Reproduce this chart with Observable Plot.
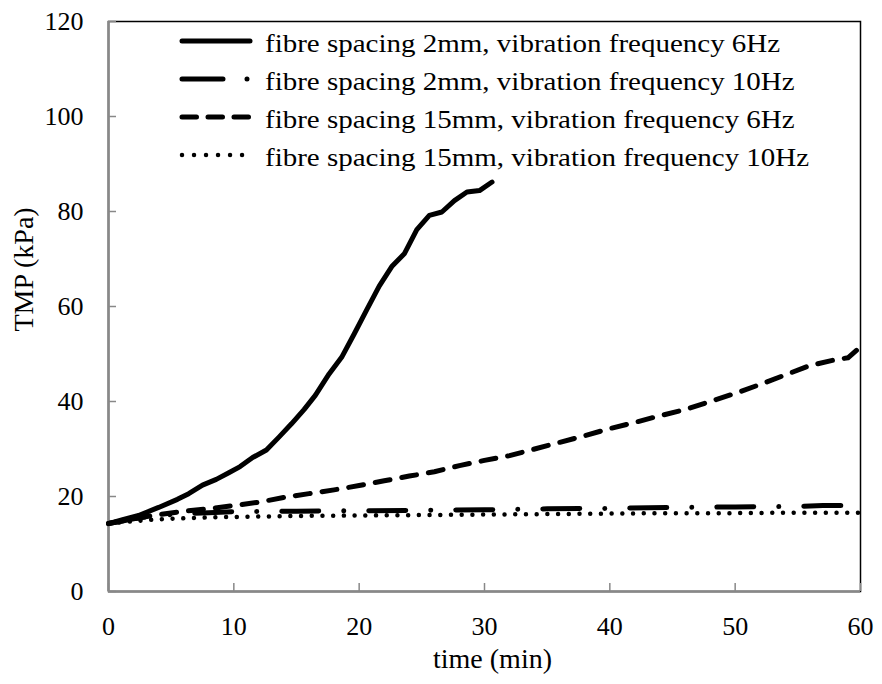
<!DOCTYPE html>
<html><head><meta charset="utf-8">
<script src="https://cdn.jsdelivr.net/npm/d3@7"></script>
<script src="https://cdn.jsdelivr.net/npm/@observablehq/plot@0.6"></script>
<style>
body{margin:0;background:#fff;}
#wrap{position:relative;width:882px;height:684px;font-family:"Liberation Serif","Times New Roman",serif;}
#legend{position:absolute;left:0;top:0;pointer-events:none;}
</style>
</head><body>
<div id="wrap"></div>
<script>
// Series: fibre spacing 2mm, vibration frequency 6Hz (solid)
const time2mm6Hz = [0,1.2,2.4,4.0,5.5,6.4,7.5,8.6,9.6,10.5,11.5,12.6,13.6,14.6,15.6,16.5,17.6,18.6,19.6,20.6,21.6,22.6,23.6,24.6,25.6,26.6,27.6,28.6,29.6,30.6];
const tmp2mm6Hz  = [14.3,15.2,16.0,17.7,19.4,20.6,22.4,23.6,25.0,26.3,28.2,29.8,32.5,35.3,38.3,41.3,45.8,49.3,54.2,59.3,64.3,68.4,71.1,76.2,79.2,79.9,82.3,84.1,84.4,86.2];
// Series: fibre spacing 2mm, vibration frequency 10Hz (long dash dot)
const time2mm10Hz = [0,1,2,3,4,5,6,8,10,15,20,25,30,35,40,45,50,55,57,59];
const tmp2mm10Hz  = [14.3,14.8,15.3,15.7,16.0,16.2,16.4,16.6,16.8,16.9,17.0,17.1,17.2,17.4,17.5,17.7,17.8,17.9,18.1,18.1];
// Series: fibre spacing 15mm, vibration frequency 6Hz (dashed)
const time15mm6Hz = [0,2,4,6,8,10,12,14,16,18,20,22,24,26,28,30,32,34,36,38,40,42,44,46,48,50,52,54,56,58,59,60];
const tmp15mm6Hz  = [14.3,15.3,16.2,16.9,17.4,18.1,18.8,19.8,20.6,21.4,22.3,23.3,24.3,25.2,26.5,27.6,28.6,30.0,31.4,32.8,34.3,35.6,37.0,38.3,40.0,41.7,43.6,45.6,47.6,48.8,49.2,51.5];
// Series: fibre spacing 15mm, vibration frequency 10Hz (dotted)
const time15mm10Hz = [0,2,4,6,8,10,15,20,25,30,35,40,45,50,55,60];
const tmp15mm10Hz  = [14.3,14.8,15.2,15.4,15.6,15.7,15.9,16.0,16.1,16.2,16.3,16.4,16.5,16.5,16.6,16.6];

const seriesLabels = [
  "fibre spacing 2mm, vibration frequency 6Hz",
  "fibre spacing 2mm, vibration frequency 10Hz",
  "fibre spacing 15mm, vibration frequency 6Hz",
  "fibre spacing 15mm, vibration frequency 10Hz"
];
const xTicks = [0,10,20,30,40,50,60];
const yTicks = [0,20,40,60,80,100,120];
const xTitle = "time (min)";
const yTitle = "TMP (kPa)";

const toRows = (ts, vs) => ts.map((t,i) => ({t, v: vs[i]}));
const styles = [
  {strokeWidth:5, dash:null},
  {strokeWidth:5, dash:"37,25,0.01,25"},
  {strokeWidth:5, dash:"15,12"},
  {strokeWidth:4.5, dash:"0.01,10.7"}
];
const seriesData = [
  toRows(time2mm6Hz, tmp2mm6Hz),
  toRows(time2mm10Hz, tmp2mm10Hz),
  toRows(time15mm6Hz, tmp15mm6Hz),
  toRows(time15mm10Hz, tmp15mm10Hz)
];

const FONT = '"Liberation Serif","Times New Roman",serif';

const chart = Plot.plot({
  width: 882,
  height: 684,
  marginLeft: 108,
  marginRight: 22,
  marginTop: 21,
  marginBottom: 93,
  style: {fontFamily: FONT, color: "black", background: "white", overflow: "visible"},
  x: {domain: [0, 60]},
  y: {domain: [0, 120]},
  marks: [
    Plot.frame({stroke: "black", strokeWidth: 1.5}),
    Plot.ruleX([0], {stroke: "#888", strokeWidth: 2.5}),
    Plot.ruleY([0], {stroke: "#888", strokeWidth: 2.5}),
    Plot.axisX(xTicks, {tickSize: -8, tickPadding: 33.5, fontSize: 26, stroke: "#888", strokeWidth: 1.5, label: null, fill: "black"}),
    Plot.axisY(yTicks, {tickSize: -8, tickPadding: 33, fontSize: 26, stroke: "#888", strokeWidth: 1.5, label: null, fill: "black"}),
    ...seriesData.map((d, i) => Plot.line(d, {
      x: "t", y: "v", stroke: "black",
      strokeWidth: styles[i].strokeWidth,
      strokeDasharray: styles[i].dash,
      strokeLinecap: "round", strokeLinejoin: "round"
    })),
    Plot.text([xTitle], {frameAnchor: "bottom", dy: 76, dx: 8, fontSize: 28, fill: "black"}),
    Plot.text([yTitle], {frameAnchor: "left", dx: -84, dy: 25, rotate: -90, fontSize: 28, fill: "black"})
  ]
});

const wrap = document.getElementById("wrap");
wrap.appendChild(chart);

// Legend overlay (inside the plot area, top)
const lg = d3.select(wrap).append("svg")
  .attr("id", "legend").attr("width", 882).attr("height", 200);
const legendDash = [null, "41,24,0.01,40", "14.5,11.5", "0.01,12"];
const legendEnd = [250, 250, 250, 243];
seriesLabels.forEach((lab, i) => {
  const yl = 41 + 38 * i;
  lg.append("line")
    .attr("x1", 182).attr("x2", legendEnd[i])
    .attr("y1", yl).attr("y2", yl)
    .attr("stroke", "black")
    .attr("stroke-width", i === 3 ? 4.5 : 5)
    .attr("stroke-linecap", "round")
    .attr("stroke-dasharray", legendDash[i]);
  lg.append("text")
    .attr("transform", `translate(265,${52 + 38 * i}) scale(1.16,1)`)
    .attr("font-family", FONT)
    .attr("font-size", 25)
    .attr("fill", "black")
    .text(lab);
});
</script>
</body></html>
